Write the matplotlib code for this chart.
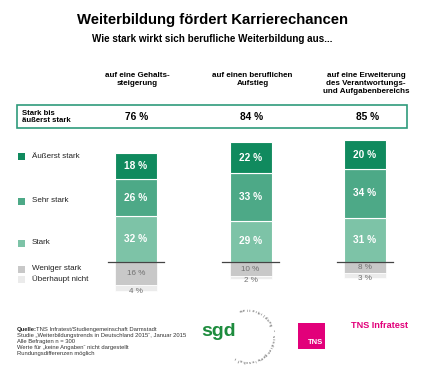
import numpy as np
import matplotlib
matplotlib.use("Agg")
import matplotlib.pyplot as plt
from matplotlib.patches import Rectangle

plt.rcParams['font.family'] = ['Liberation Sans', 'DejaVu Sans']

# ---- data ----
categories = ["auf eine Gehalts-\nsteigerung",
              "auf einen beruflichen\nAufstieg",
              "auf eine Erweiterung\ndes Verantwortungs-\nund Aufgabenbereichs"]
aeusserst_stark = [18, 22, 20]
sehr_stark = [26, 33, 34]
stark = [32, 29, 31]
weniger_stark = [16, 10, 8]
ueberhaupt_nicht = [4, 2, 3]
totals = [76, 84, 85]
series_labels = ["Äußerst stark", "Sehr stark", "Stark", "Weniger stark", "Überhaupt nicht"]

title = "Weiterbildung fördert Karrierechancen"
subtitle = "Wie stark wirkt sich berufliche Weiterbildung aus..."
box_label = "Stark bis\näußerst stark"
footer = ["Studie \u201eWeiterbildungstrends in Deutschland 2015\u201c, Januar 2015",
          "Alle Befragten n = 300",
          "Werte für \u201ekeine Angaben\u201c nicht dargestellt",
          "Rundungsdifferenzen möglich"]

c_dark = "#108A5E"
c_mid = "#4DA987"
c_light = "#7DC3A7"
c_grey = "#C8C8C8"
c_lgrey = "#EBEBEB"
c_pink = "#E2007A"

W, H = 425, 371
fig = plt.figure(figsize=(W / 100, H / 100), dpi=100)
fig.patch.set_facecolor("white")

# ---- bar axes ----
top_px, bot_px = 140, 295
ax = fig.add_axes([0, 1 - bot_px / H, 1, (bot_px - top_px) / H])
x = np.arange(len(categories))
bw = 0.367
a = np.array(aeusserst_stark); s = np.array(sehr_stark); st = np.array(stark)
w = np.array(weniger_stark); u = np.array(ueberhaupt_nicht)
ax.bar(x, st, bw, bottom=0, color=c_light, edgecolor="white", linewidth=0.8)
ax.bar(x, s, bw, bottom=st, color=c_mid, edgecolor="white", linewidth=0.8)
ax.bar(x, a, bw, bottom=st + s, color=c_dark, edgecolor="white", linewidth=0.8)
ax.bar(x, -w, bw, bottom=0, color=c_grey, edgecolor="white", linewidth=0.5)
ax.bar(x, -u, bw, bottom=-w, color=c_lgrey, edgecolor="white", linewidth=0.5)
for i in range(len(x)):
    ax.plot([x[i] - 0.245, x[i] + 0.245], [0, 0], color="#444444", lw=0.9, zorder=5)
    ax.text(x[i], st[i] / 2, f"{st[i]} %", ha="center", va="center", color="white",
            fontsize=7.3, fontweight="bold")
    ax.text(x[i], st[i] + s[i] / 2, f"{s[i]} %", ha="center", va="center", color="white",
            fontsize=7.3, fontweight="bold")
    ax.text(x[i], st[i] + s[i] + a[i] / 2, f"{a[i]} %", ha="center", va="center", color="white",
            fontsize=7.3, fontweight="bold")
    ax.text(x[i], -w[i] / 2, f"{w[i]} %", ha="center", va="center", color="#707070", fontsize=5.8)
    ax.text(x[i], -w[i] - u[i] - 0.8, f"{u[i]} %", ha="center", va="center", color="#707070", fontsize=5.8)
ax.set_xlim(-1.188, 2.524)
ax.set_ylim(-23.1, 85.3)
ax.axis("off")

# ---- overlay axes (pixel coords) ----
ov = fig.add_axes([0, 0, 1, 1])
ov.set_xlim(0, W)
ov.set_ylim(H, 0)
ov.axis("off")

ov.text(212.5, 20, title, ha="center", va="center", fontsize=10.7, fontweight="bold")
ov.text(212.5, 38.5, subtitle, ha="center", va="center", fontsize=7.15, fontweight="bold")

col_px = [137, 252.5, 366]
for cx, cat in zip(col_px, categories):
    ov.text(cx, 72, cat, ha="center", va="top", fontsize=5.8, fontweight="bold", linespacing=1.2)

# box
ov.add_patch(Rectangle((17, 105), 390, 23, fill=False, edgecolor="#2F9B7B", lw=1.2))
ov.text(22, 117, box_label, ha="left", va="center", fontsize=5.6, fontweight="bold", linespacing=1.15)
box_cx = [137, 252, 368]
for cx, t in zip(box_cx, totals):
    ov.text(cx, 117, f"{t} %", ha="center", va="center", fontsize=7.3, fontweight="bold")

# legend
leg_y = [156, 201, 243, 269, 279]
leg_c = [c_dark, c_mid, c_light, c_grey, c_lgrey]
for yy, cc, lab in zip(leg_y, leg_c, series_labels):
    ov.add_patch(Rectangle((18, yy - 3.5), 7, 7, color=cc, lw=0))
    ov.text(32, yy, lab, ha="left", va="center", fontsize=5.8, color="#222222")

# footer
fy = 329
ov.text(17, fy, "Quelle:", ha="left", va="center", fontsize=4.2, fontweight="bold", color="#222222")
ov.text(36.5, fy, "TNS Infratest/Studiengemeinschaft Darmstadt", ha="left", va="center",
        fontsize=4.2, color="#333333")
for k, line in enumerate(footer):
    ov.text(17, fy + 6 * (k + 1), line, ha="left", va="center", fontsize=4.2, color="#333333")

# sgd logo
ov.text(219, 332, "sgd", ha="center", va="center", fontsize=14, fontweight="bold", color="#1E8C3E")
arc_text = "weiterbildung \u2022 studiengemeinschaft"
cxa, cya, r = 248, 336, 25
angs = np.linspace(105, -118, len(arc_text))
for ch, ang in zip(arc_text, angs):
    rad = np.deg2rad(ang)
    ov.text(cxa + r * np.cos(rad), cya - r * np.sin(rad), ch, ha="center", va="center",
            fontsize=3.2, color="#555555", rotation=ang - 90)

# TNS logos
ov.add_patch(Rectangle((298, 323), 27, 26, color=c_pink, lw=0))
ov.text(323, 346, "TNS", ha="right", va="bottom", fontsize=5.5, fontweight="bold", color="white")
ov.text(351, 326, "TNS Infratest", ha="left", va="center", fontsize=6.6, fontweight="bold", color=c_pink)

fig.savefig("out.png", dpi=100, facecolor="white")
